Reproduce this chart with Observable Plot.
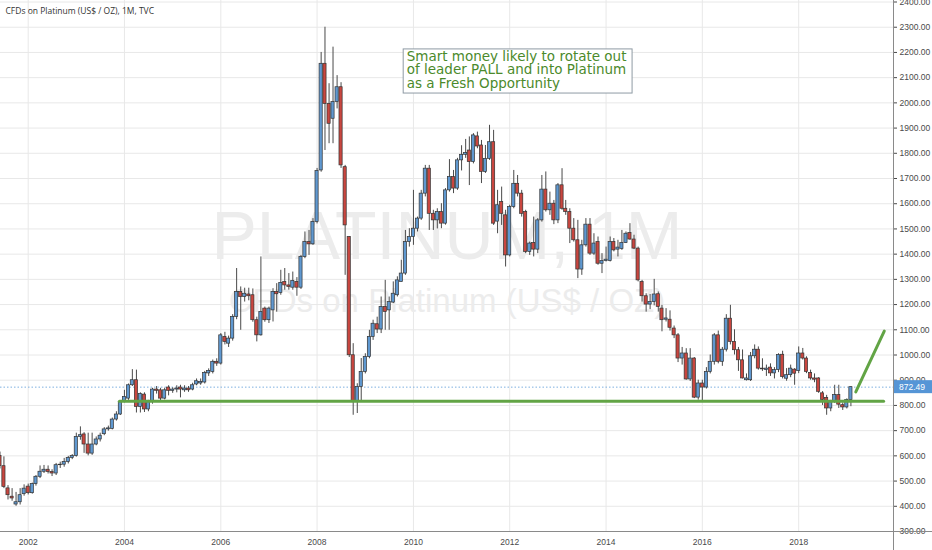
<!DOCTYPE html>
<html><head><meta charset="utf-8">
<script src="https://cdn.jsdelivr.net/npm/d3@7"></script>
<script src="https://cdn.jsdelivr.net/npm/@observablehq/plot@0.6"></script>
<style>
html,body{margin:0;padding:0;background:#fff;}
#chart{width:932px;height:550px;overflow:hidden;}
</style></head><body><div id="chart"></div>
<script>
const title = "CFDs on Platinum (US$ / OZ), 1M, TVC";
const watermark1 = "PLATINUM, 1M";
const watermark2 = "CFDs on Platinum (US$ / OZ)";
const noteText = "Smart money likely to rotate out\nof leader PALL and into Platinum\nas a Fresh Opportunity";

const months = [
"2001-06","2001-07","2001-08","2001-09","2001-10","2001-11","2001-12",
"2002-01","2002-02","2002-03","2002-04","2002-05","2002-06","2002-07","2002-08","2002-09","2002-10","2002-11","2002-12",
"2003-01","2003-02","2003-03","2003-04","2003-05","2003-06","2003-07","2003-08","2003-09","2003-10","2003-11","2003-12",
"2004-01","2004-02","2004-03","2004-04","2004-05","2004-06","2004-07","2004-08","2004-09","2004-10","2004-11","2004-12",
"2005-01","2005-02","2005-03","2005-04","2005-05","2005-06","2005-07","2005-08","2005-09","2005-10","2005-11","2005-12",
"2006-01","2006-02","2006-03","2006-04","2006-05","2006-06","2006-07","2006-08","2006-09","2006-10","2006-11","2006-12",
"2007-01","2007-02","2007-03","2007-04","2007-05","2007-06","2007-07","2007-08","2007-09","2007-10","2007-11","2007-12",
"2008-01","2008-02","2008-03","2008-04","2008-05","2008-06","2008-07","2008-08","2008-09","2008-10","2008-11","2008-12",
"2009-01","2009-02","2009-03","2009-04","2009-05","2009-06","2009-07","2009-08","2009-09","2009-10","2009-11","2009-12",
"2010-01","2010-02","2010-03","2010-04","2010-05","2010-06","2010-07","2010-08","2010-09","2010-10","2010-11","2010-12",
"2011-01","2011-02","2011-03","2011-04","2011-05","2011-06","2011-07","2011-08","2011-09","2011-10","2011-11","2011-12",
"2012-01","2012-02","2012-03","2012-04","2012-05","2012-06","2012-07","2012-08","2012-09","2012-10","2012-11","2012-12",
"2013-01","2013-02","2013-03","2013-04","2013-05","2013-06","2013-07","2013-08","2013-09","2013-10","2013-11","2013-12",
"2014-01","2014-02","2014-03","2014-04","2014-05","2014-06","2014-07","2014-08","2014-09","2014-10","2014-11","2014-12",
"2015-01","2015-02","2015-03","2015-04","2015-05","2015-06","2015-07","2015-08","2015-09","2015-10","2015-11","2015-12",
"2016-01","2016-02","2016-03","2016-04","2016-05","2016-06","2016-07","2016-08","2016-09","2016-10","2016-11","2016-12",
"2017-01","2017-02","2017-03","2017-04","2017-05","2017-06","2017-07","2017-08","2017-09","2017-10","2017-11","2017-12",
"2018-01","2018-02","2018-03","2018-04","2018-05","2018-06","2018-07","2018-08","2018-09","2018-10","2018-11","2018-12",
"2019-01","2019-02"];

const open = [
600,559,471,438,407,416,448,
478,452,488,517,537,545,536,530,563,565,576,592,
599,675,685,645,609,645,665,686,705,707,744,764,
814,827,880,900,794,843,784,814,863,860,827,871,
858,863,871,860,867,863,883,887,891,927,933,973,
966,1072,1045,1065,1151,1250,1230,1240,1237,1138,1078,1184,
1138,1177,1250,1246,1290,1276,1267,1290,1267,1389,1448,1439,
1528,1732,2155,1996,1937,2003,2062,1745,1468,999,814,873,
933,992,1072,1122,1101,1191,1177,1208,1237,1290,1323,1448,
1468,1501,1541,1640,1739,1560,1534,1567,1521,1653,1706,1660,
1772,1794,1811,1765,1867,1831,1726,1778,1844,1529,1607,1554,
1395,1587,1679,1640,1567,1409,1444,1418,1534,1656,1574,1600,
1534,1673,1580,1567,1501,1455,1339,1435,1517,1402,1448,1362,
1373,1373,1448,1418,1421,1444,1484,1458,1422,1290,1233,1200,
1210,1241,1184,1140,1140,1105,1078,986,1006,903,986,831,
887,871,933,973,1078,973,1021,1144,1052,1019,979,900,
900,995,1021,946,940,950,927,940,1001,906,920,942,
936,1006,986,929,907,907,848,830,788,814,841,801,
792,821];

const high = [
615,596,482,470,455,470,485,
488,492,522,560,562,560,545,570,575,590,598,605,
690,715,692,690,690,675,690,712,718,750,775,818,
860,885,942,940,850,850,820,868,875,868,868,878,
870,878,880,878,875,888,905,905,935,945,980,985,
1085,1090,1075,1160,1343,1270,1265,1265,1262,1150,1389,1190,
1190,1263,1283,1336,1343,1323,1329,1307,1395,1488,1494,1541,
1740,2200,2300,2076,2221,2108,2080,1752,1470,1045,886,986,
1005,1098,1138,1150,1230,1296,1230,1290,1310,1376,1494,1501,
1653,1547,1653,1752,1752,1574,1580,1600,1660,1775,1732,1780,
1830,1855,1865,1878,1884,1851,1831,1911,1891,1653,1666,1574,
1594,1732,1712,1653,1574,1448,1547,1541,1712,1726,1646,1613,
1680,1739,1613,1580,1541,1534,1455,1541,1541,1481,1468,1402,
1428,1468,1462,1455,1494,1488,1521,1475,1428,1296,1243,1240,
1300,1250,1197,1184,1175,1115,1085,1030,1025,1025,990,900,
900,950,1000,1085,1095,1030,1160,1197,1100,1030,1020,925,
1010,1040,1032,985,960,965,950,1005,1015,946,960,946,
1032,1026,993,940,925,910,855,840,820,880,880,810,
826,873];

const low = [
548,470,425,420,400,405,440,
445,448,480,510,530,528,518,522,550,555,568,585,
595,662,610,600,602,640,655,680,698,703,738,760,
810,820,875,770,770,772,775,805,845,815,822,838,
848,850,830,852,852,858,878,880,885,915,925,955,
960,1040,1030,1055,1140,1098,1210,1215,1130,1052,1075,1130,
1125,1131,1170,1237,1257,1257,1257,1233,1260,1382,1395,1435,
1520,1725,1811,1838,1838,1976,1740,1316,990,761,768,814,
925,985,1058,1085,1085,1098,1098,1204,1230,1290,1316,1428,
1435,1488,1534,1627,1494,1494,1500,1501,1515,1646,1640,1653,
1730,1780,1672,1758,1818,1680,1720,1772,1514,1481,1514,1349,
1389,1580,1627,1547,1402,1395,1389,1402,1527,1567,1554,1517,
1521,1574,1554,1442,1448,1303,1316,1428,1395,1395,1356,1323,
1369,1369,1409,1389,1415,1442,1455,1418,1290,1210,1170,1180,
1195,1170,1092,1131,1095,1065,970,960,900,895,827,821,
814,865,925,960,965,955,1012,1040,1000,935,905,897,
895,985,940,935,915,915,905,930,905,896,910,880,
926,980,926,900,890,848,800,761,775,808,788,780,
786,795];

const close = [
560,477,444,431,416,444,470,
452,488,517,537,545,536,530,563,565,576,592,599,
675,682,645,609,645,665,680,705,709,744,764,814,
834,880,900,794,845,784,814,863,858,827,860,858,
863,867,863,867,860,880,896,893,929,937,973,966,
1078,1052,1065,1151,1250,1230,1243,1233,1138,1078,1171,1138,
1184,1250,1241,1286,1276,1270,1294,1267,1389,1448,1439,1528,
1730,2155,1996,1917,2003,2062,1752,1514,999,814,873,933,
992,1072,1124,1101,1191,1171,1210,1243,1296,1323,1448,1468,
1501,1541,1640,1739,1560,1534,1567,1521,1653,1706,1660,1772,
1794,1801,1765,1871,1827,1726,1778,1844,1521,1594,1560,1395,
1587,1679,1640,1560,1409,1442,1418,1534,1656,1574,1600,1534,
1673,1580,1567,1501,1455,1339,1435,1517,1402,1442,1362,1373,
1378,1448,1415,1426,1444,1481,1458,1422,1296,1233,1200,1210,
1240,1191,1138,1145,1108,1078,986,1006,903,986,831,887,
871,933,973,1078,973,1021,1144,1052,1019,979,907,907,
995,1021,946,943,946,927,940,1000,913,920,946,926,
1006,986,933,907,902,854,821,788,814,841,803,792,
821,872.49];

const yTicks = [300,400,500,600,700,800,900,1000,1100,1200,1300,1400,1500,1600,1700,1800,1900,2000,2100,2200,2300,2400];
const xTickYears = ["2002","2004","2006","2008","2010","2012","2014","2016","2018"];
const lastPrice = 872.49;

// hand-drawn annotations (date, price)
const supportDates = ["2003-11-24","2019-10-07"];
const supportValues = [817, 817];
const arrowDates = ["2019-03-10","2019-10-12"];
const arrowValues = [854, 1095];
const noteDates = ["2009-10-19","2014-07-21"];
const noteValues = [2037, 2212];

const parseM = d3.utcParse("%Y-%m");
const parseD = d3.utcParse("%Y-%m-%d");
const parseY = d3.utcParse("%Y");
const candles = months.map((m, i) => ({date: parseM(m), open: open[i], high: high[i], low: low[i], close: close[i]}));
const xTicks = xTickYears.map(parseY);
const support = supportDates.map((d, i) => ({date: parseD(d), value: supportValues[i]}));
const arrow = arrowDates.map((d, i) => ({date: parseD(d), value: arrowValues[i]}));
const note = [{x1: parseD(noteDates[0]), x2: parseD(noteDates[1]), y1: noteValues[0], y2: noteValues[1], text: noteText}];

const chart = Plot.plot({
  width: 932, height: 550,
  marginLeft: 0, marginRight: 39, marginTop: 0, marginBottom: 19,
  style: {fontFamily: "'Liberation Sans', Arial, sans-serif", fontSize: "8.5px", color: "#4a4a4a", background: "#fff", overflow: "visible"},
  x: {type: "utc", domain: [parseD("2001-06-05"), parseD("2019-12-21")], ticks: xTicks, tickFormat: d3.utcFormat("%Y"), tickSize: 0, tickPadding: 7, label: null},
  y: {domain: [300, 2406], axis: "right", ticks: yTicks, tickFormat: d => d.toFixed(2), tickSize: 3, tickPadding: 3, label: null},
  marks: [
    Plot.gridY(yTicks, {stroke: "#e8e8e8", strokeOpacity: 1}),
    Plot.gridX(xTicks, {stroke: "#e8e8e8", strokeOpacity: 1}),
    Plot.text([watermark1], {frameAnchor: "middle", dy: -29, fontSize: 68, fill: "#ececec", fontFamily: "'Liberation Sans', Arial, sans-serif"}),
    Plot.text([watermark2], {frameAnchor: "middle", dy: 35, fontSize: 33, fill: "#ececec", fontFamily: "'Liberation Sans', Arial, sans-serif"}),
    Plot.ruleY([lastPrice], {stroke: "#7fb0e0", strokeDasharray: "1.5,2", strokeWidth: 1}),
    Plot.ruleX(candles, {x: "date", y1: "low", y2: "high", stroke: "#4a4a4a", strokeWidth: 1}),
    Plot.rect(candles, {
      x1: d => d3.utcDay.offset(d.date, -12), x2: d => d3.utcDay.offset(d.date, 12),
      y1: "open", y2: "close",
      fill: d => d.close >= d.open ? "#5f98d0" : "#c9463f",
      stroke: "#333", strokeWidth: 0.7
    }),
    Plot.line(support, {x: "date", y: "value", stroke: "#62a445", strokeWidth: 3}),
    Plot.line(arrow, {x: "date", y: "value", stroke: "#62a445", strokeWidth: 3, strokeLinecap: "round"}),
    Plot.rect(note, {x1: "x1", x2: "x2", y1: "y1", y2: "y2", fill: "#fff", stroke: "#8e9aa4", strokeWidth: 1}),
    Plot.text(note, {x: "x1", y: "y2", text: "text", textAnchor: "start", lineAnchor: "top", dx: 3, dy: 2, fontSize: 13.5, lineHeight: 1, fill: "#4b8a2b", fontFamily: "'DejaVu Sans', Verdana, sans-serif"}),
    Plot.text([title], {frameAnchor: "top-left", dx: 5, dy: 11, lineAnchor: "middle", fontSize: 8.5, fill: "#333", fontFamily: "'Open Sans', sans-serif"})
  ]
});

// axis lines and last-price label, positioned through the plot's scales
const sx = chart.scale("x"), sy = chart.scale("y");
const svg = d3.select(chart);
const xr = sx.range[1], yb = sy.apply(yTicks[0]);
svg.append("line").attr("x1", xr + 0.5).attr("x2", xr + 0.5).attr("y1", 0).attr("y2", 550).attr("stroke", "#8a8a8a");
svg.append("line").attr("x1", 0).attr("x2", 932).attr("y1", yb + 0.5).attr("y2", yb + 0.5).attr("stroke", "#8a8a8a");
const yl = sy.apply(lastPrice);
svg.append("rect").attr("x", xr + 1).attr("y", yl - 6.5).attr("width", 932 - xr).attr("height", 13).attr("fill", "#5595d6");
svg.append("text").attr("x", xr + 6).attr("y", yl).attr("dy", "0.35em").attr("fill", "#fff")
  .attr("text-anchor", "start")
  .attr("font-size", "8.5px").attr("font-family", "'Liberation Sans', Arial, sans-serif").text(lastPrice.toFixed(2));

document.getElementById("chart").appendChild(chart);
</script></body></html>
